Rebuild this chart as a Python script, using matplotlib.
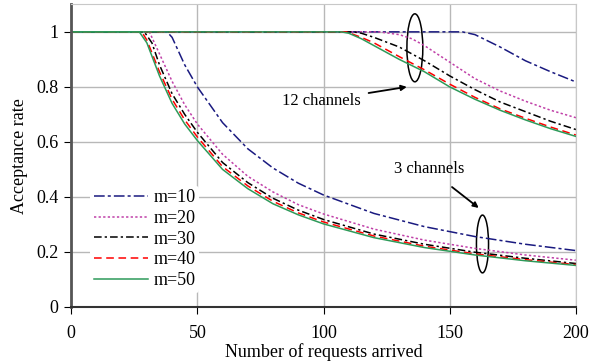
import numpy as np
import matplotlib.pyplot as plt
from matplotlib.patches import Ellipse

# values
# 3 channels
x3_m10 = [0, 38, 40, 45, 50, 60, 70, 80, 90, 100, 120, 140, 160, 180, 200]
y3_m10 = [1, 1, 0.98, 0.88, 0.80, 0.67, 0.575, 0.505, 0.45, 0.407, 0.34, 0.292, 0.256, 0.228, 0.205]
x3_m20 = [0, 31, 35, 40, 45, 50, 60, 70, 80, 90, 100, 120, 140, 160, 180, 200]
y3_m20 = [1, 1, 0.92, 0.82, 0.735, 0.665, 0.555, 0.475, 0.418, 0.372, 0.338, 0.283, 0.243, 0.213, 0.189, 0.170]
x3_m30 = [0, 29, 32, 35, 40, 45, 50, 60, 70, 80, 90, 100, 120, 140, 160, 180, 200]
y3_m30 = [1, 1, 0.96, 0.88, 0.775, 0.70, 0.635, 0.525, 0.452, 0.395, 0.352, 0.318, 0.265, 0.228, 0.199, 0.177, 0.158]
x3_m40 = [0, 28, 30, 35, 40, 45, 50, 60, 70, 80, 90, 100, 120, 140, 160, 180, 200]
y3_m40 = [1, 1, 0.97, 0.855, 0.755, 0.68, 0.618, 0.51, 0.44, 0.384, 0.342, 0.309, 0.258, 0.221, 0.193, 0.172, 0.154]
x3_m50 = [0, 27, 30, 35, 40, 45, 50, 60, 70, 80, 90, 100, 120, 140, 160, 180, 200]
y3_m50 = [1, 1, 0.96, 0.84, 0.74, 0.665, 0.605, 0.50, 0.43, 0.375, 0.335, 0.302, 0.252, 0.216, 0.189, 0.168, 0.151]

# 12 channels
x12_m10 = [0, 155, 160, 170, 180, 190, 200]
y12_m10 = [1, 1, 0.99, 0.945, 0.895, 0.855, 0.818]
x12_m20 = [0, 122, 130, 135, 140, 150, 160, 170, 180, 190, 200]
y12_m20 = [1, 1, 0.99, 0.975, 0.95, 0.89, 0.83, 0.785, 0.748, 0.715, 0.688]
x12_m30 = [0, 112, 115, 120, 130, 140, 150, 160, 170, 180, 190, 200]
y12_m30 = [1, 1, 0.995, 0.98, 0.945, 0.895, 0.84, 0.79, 0.745, 0.71, 0.675, 0.645]
x12_m40 = [0, 109, 115, 120, 130, 140, 150, 160, 170, 180, 190, 200]
y12_m40 = [1, 1, 0.98, 0.96, 0.91, 0.862, 0.81, 0.762, 0.72, 0.686, 0.654, 0.625]
x12_m50 = [0, 107, 110, 115, 120, 130, 140, 150, 160, 170, 180, 190, 200]
y12_m50 = [1, 1, 0.995, 0.975, 0.95, 0.90, 0.855, 0.80, 0.755, 0.715, 0.68, 0.648, 0.62]

labels = ['m=10', 'm=20', 'm=30', 'm=40', 'm=50']
colors = ['#1a1a80', '#c040a8', 'black', '#ff0000', '#2e9a5a']
styles = [(0, (7, 2, 2, 2)), (0, (1.5, 1.5)), (0, (5, 2, 1.5, 2)), (0, (5, 3)), '-']

plt.rc('font', family='Liberation Serif', size=12)
fig = plt.figure(figsize=(6.03, 3.62), dpi=100)
ax = fig.add_axes([0.118, 0.152, 0.837, 0.836])

set3 = [(x3_m10, y3_m10), (x3_m20, y3_m20), (x3_m30, y3_m30), (x3_m40, y3_m40), (x3_m50, y3_m50)]
set12 = [(x12_m10, y12_m10), (x12_m20, y12_m20), (x12_m30, y12_m30), (x12_m40, y12_m40), (x12_m50, y12_m50)]

for i in range(5):
    ax.plot(set3[i][0], set3[i][1], color=colors[i], linestyle=styles[i], lw=1.1, label=labels[i])
    ax.plot(set12[i][0], set12[i][1], color=colors[i], linestyle=styles[i], lw=1.1)

ax.set_xlim(0, 200)
ax.set_ylim(0, 1.1)
ax.set_xticks([0, 50, 100, 150, 200])
ax.set_yticks([0, 0.2, 0.4, 0.6, 0.8, 1])
ax.set_yticklabels(['0', '0.2', '0.4', '0.6', '0.8', '1'])
ax.grid(True, color='#b8b8b8', lw=1)
ax.set_axisbelow(True)
ax.tick_params(axis='x', direction='out', length=5, pad=8, labelsize=13)
ax.tick_params(axis='y', direction='out', length=5, pad=4, labelsize=13)
ax.spines['left'].set_color('#555555')
ax.spines['left'].set_linewidth(2)
ax.spines['bottom'].set_color('#333333')
ax.spines['bottom'].set_linewidth(1.5)
ax.spines['top'].set_color('#c8c8c8')
ax.spines['right'].set_color('#c8c8c8')

ax.set_xlabel('Number of requests arrived', fontsize=13)
ax.xaxis.set_label_coords(0.5, -0.118)
ax.set_ylabel('Acceptance rate', labelpad=6, fontsize=13)

leg = ax.legend(loc='upper left', bbox_to_anchor=(0.02, 0.43), frameon=True,
                handlelength=3.0, handletextpad=0.3, labelspacing=0.2,
                borderpad=0.2, fontsize=13)
leg.get_frame().set_edgecolor('none')
leg.get_frame().set_facecolor('white')
leg.get_frame().set_alpha(1)

# ellipses and annotations
ax.add_patch(Ellipse((136.2, 0.942), 6.3, 0.247, fill=False, ec='black', lw=1.1))
ax.add_patch(Ellipse((163, 0.229), 4.8, 0.21, fill=False, ec='black', lw=1.1))
ax.annotate('12 channels', xy=(133, 0.80), xytext=(99, 0.75),
            ha='center', va='center',
            arrowprops=dict(arrowstyle='-|>', color='black', lw=1.3, mutation_scale=8,
                            shrinkA=4, shrinkB=0))
ax.annotate('3 channels', xy=(161.5, 0.36), xytext=(142, 0.50),
            ha='center', va='center',
            arrowprops=dict(arrowstyle='-|>', color='black', lw=1.3, mutation_scale=8,
                            shrinkA=8, shrinkB=0))

plt.savefig('out.png', dpi=100)
